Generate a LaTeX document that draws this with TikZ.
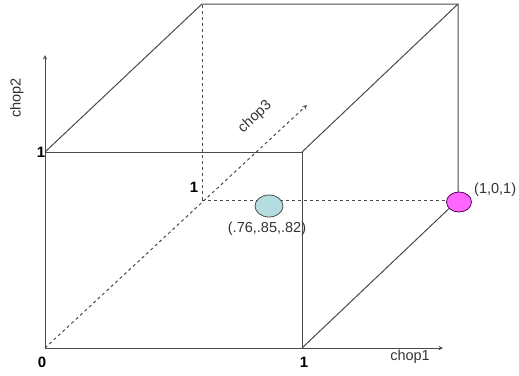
\documentclass[tikz,border=0pt]{standalone}
\usepackage{fontspec}
\setmainfont{Liberation Sans}
\usetikzlibrary{shapes.geometric}
\definecolor{edgegray}{HTML}{4A4A4A}
\definecolor{ptcyan}{HTML}{B4DDE0}
\definecolor{ptpink}{HTML}{FF66FF}

\begin{document}
\begin{tikzpicture}[
        x=1pt, y=-1pt,
        edge/.style={draw=edgegray, line width=1pt},
        hidden/.style={edge, dashed},
        axisline/.style={edge, ->, >=stealth},
        tick/.style={font=\bfseries\fontsize{15}{18}\selectfont, inner sep=0pt},
        axlabel/.style={font=\fontsize{14.5}{17}\selectfont, text=black!80, inner sep=0pt},
        ptnode/.style={ellipse, draw, line width=0.8pt, inner sep=0pt}
        ]
        \useasboundingbox (0,0) rectangle (519,375);
        % corners of the cube
        \coordinate (o)   at (45,348);
        \coordinate (fx)  at (302,348);
        \coordinate (fy)  at (45,152);
        \coordinate (fxy) at (302,152);
        \coordinate (bz)  at (202,200);
        \coordinate (bxz) at (458,200);
        \coordinate (byz) at (202,4);
        \coordinate (bxyz) at (458,4);
        % axis ends
        \coordinate (xend) at (443,348);
        \coordinate (yend) at (45,55);
        \coordinate (zend) at (307,105);

        % axes
        \draw[axisline] (o) -- (xend);
        \draw[axisline] (o) -- (yend);
        \draw[hidden, ->, >=stealth] (o) -- (zend);

        % hidden edges
        \draw[hidden] (bz) -- (byz);
        \draw[hidden] (bz) -- (bxz);

        % visible edges
        \draw[edge] (fy) -- (fxy) -- (fx);
        \draw[edge] (fy) -- (byz) -- (bxyz) -- (bxz);
        \draw[edge] (fxy) -- (bxyz);
        \draw[edge] (fx) -- (bxz);

        % ticks
        \node[tick] (t0)  at (42,362)  {0};
        \node[tick] (tx)  at (304,362) {1};
        \node[tick] (ty)  at (41,152)  {1};
        \node[tick] (tz)  at (194,187) {1};

        % axis labels
        \node[axlabel] (lx) at (410,357) {chop1};
        \node[axlabel, rotate=90] (ly) at (17,98) {chop2};
        \node[axlabel, rotate=43] (lz) at (255,117) {chop3};

        % points
        \node[ptnode, draw=black!70, fill=ptcyan, minimum width=28pt, minimum height=22pt] (p1) at (269,206) {};
        \node[axlabel] (p1lab) at (267,229) {(.76,.85,.82)};
        \node[ptnode, draw=violet!70!black, fill=ptpink, minimum width=25pt, minimum height=20pt] (p2) at (459,202) {};
        \node[axlabel, anchor=west] (p2lab) at (474,190) {(1,0,1)};
\end{tikzpicture}
\end{document}
